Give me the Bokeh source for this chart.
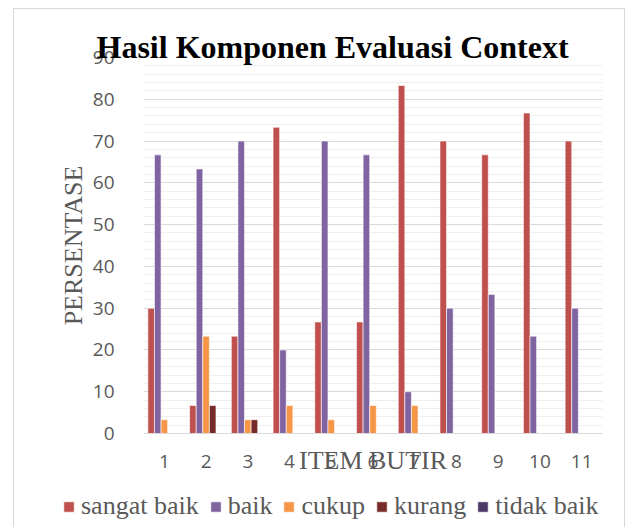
from bokeh.plotting import figure
from bokeh.layouts import column
from bokeh.models import (FactorRange, Range1d, Legend, LegendItem,
                          SingleIntervalTicker, ColumnDataSource)
from bokeh.transform import dodge
from bokeh.embed import file_html
from bokeh.resources import INLINE

# ---- data ----
items = ["1", "2", "3", "4", "5", "6", "7", "8", "9", "10", "11"]
sangat_baik = [30.0, 6.7, 23.3, 73.3, 26.7, 26.7, 83.3, 70.0, 66.7, 76.7, 70.0]
baik = [66.7, 63.3, 70.0, 20.0, 70.0, 66.7, 10.0, 30.0, 33.3, 23.3, 30.0]
cukup = [3.3, 23.3, 3.3, 6.7, 3.3, 6.7, 6.7, 0.0, 0.0, 0.0, 0.0]
kurang = [0.0, 6.7, 3.3, 0.0, 0.0, 0.0, 0.0, 0.0, 0.0, 0.0, 0.0]
tidak_baik = [0.0, 0.0, 0.0, 0.0, 0.0, 0.0, 0.0, 0.0, 0.0, 0.0, 0.0]
series_names = ["sangat baik", "baik", "cukup", "kurang", "tidak baik"]
series_keys = ["sangat_baik", "baik", "cukup", "kurang", "tidak_baik"]
colors = ["#C0504D", "#8064A2", "#F79646", "#772C2A", "#4B3A66"]
title_text = "Hasil Komponen Evaluasi Context"
x_title = "ITEM BUTIR"
y_title = "PERSENTASE"

source = ColumnDataSource(dict(item=items, sangat_baik=sangat_baik, baik=baik,
                               cukup=cukup, kurang=kurang, tidak_baik=tidak_baik))
BORDER = "1px solid #d9d9d9"

# ---------------- main chart ----------------
p = figure(x_range=FactorRange(factors=items), y_range=Range1d(0, 90),
           width=612, height=475, output_backend="svg", toolbar_location=None,
           min_border_left=129, min_border_right=24, min_border_top=48,
           min_border_bottom=51)
p.margin = (8, 0, 0, 13)
p.styles = {"border-top": BORDER, "border-left": BORDER, "border-right": BORDER}
p.outline_line_color = None
p.background_fill_color = "white"
p.border_fill_color = "white"

bw = 0.158
offsets = [-2 * bw, -bw, 0.0, bw, 2 * bw]
for key, col, off in zip(series_keys, colors, offsets):
    p.vbar(x=dodge("item", off, range=p.x_range), top=key, width=bw,
           source=source, fill_color=col, line_color="white", line_width=0.6)

# y axis
p.yaxis.ticker = SingleIntervalTicker(interval=10, num_minor_ticks=5)
p.yaxis.axis_line_color = None
p.yaxis.major_tick_line_color = None
p.yaxis.minor_tick_line_color = None
p.yaxis.major_label_standoff = 23
p.yaxis.major_label_text_font = "Open Sans"
p.yaxis.major_label_text_font_size = "19px"
p.yaxis.major_label_text_color = "#595959"
p.yaxis.axis_label = y_title
p.yaxis.axis_label_text_font = "Liberation Serif"
p.yaxis.axis_label_text_font_style = "normal"
p.yaxis.axis_label_text_font_size = "26px"
p.yaxis.axis_label_text_color = "#595959"
p.yaxis.axis_label_standoff = 2

# x axis (its title sits on the tick-label row, as in the original)
p.xaxis.axis_line_color = "#d9d9d9"
p.xaxis.axis_line_width = 1
p.xaxis.major_tick_line_color = None
p.xaxis.minor_tick_line_color = None
p.xaxis.major_label_standoff = 15
p.xaxis.major_label_text_font = "Open Sans"
p.xaxis.major_label_text_font_size = "19px"
p.xaxis.major_label_text_color = "#595959"
p.xaxis.axis_label = x_title
p.xaxis.axis_label_standoff = -25
p.xaxis.axis_label_text_font = "Liberation Serif"
p.xaxis.axis_label_text_font_style = "normal"
p.xaxis.axis_label_text_font_size = "26px"
p.xaxis.axis_label_text_color = "#595959"

# grid
p.xgrid.grid_line_color = None
p.ygrid.grid_line_color = "#d9d9d9"
p.ygrid.grid_line_width = 1
p.ygrid.minor_grid_line_color = "#efefef"
p.ygrid.minor_grid_line_width = 1

# chart title
p.title.text = title_text
p.title.text_font = "Liberation Serif"
p.title.text_font_size = "32px"
p.title.text_font_style = "bold"
p.title.text_color = "black"
p.title.align = "left"
p.title.offset = -47
p.title.standoff = -14

# ---------------- legend strip ----------------
# proxies of the same series (their bars fall outside this strip's y-range)
lg = figure(x_range=FactorRange(factors=items), y_range=Range1d(1000, 1001),
            width=612, height=44, output_backend="svg", toolbar_location=None,
            title=None, x_axis_location=None, y_axis_location=None,
            min_border_left=0, min_border_right=0, min_border_top=0, min_border_bottom=0)
lg.margin = (0, 0, 0, 13)
lg.styles = {"border-left": BORDER, "border-right": BORDER}
lg.outline_line_color = None
lg.xgrid.grid_line_color = None
lg.ygrid.grid_line_color = None
proxies = []
for key, col, off in zip(series_keys, colors, offsets):
    proxies.append(lg.vbar(x=dodge("item", off, range=lg.x_range), top=key, width=bw,
                           source=source, fill_color=col, line_color="white",
                           line_width=0.6))

# keep the strip's frame full-width (do not align it with the chart's frame)
unaligned = True
try:
    lg.frame_align = False
    p.frame_align = False
except Exception:
    unaligned = False

legend = Legend(items=[LegendItem(label=n, renderers=[r]) for n, r in zip(series_names, proxies)],
                orientation="horizontal", location=(48, 6) if unaligned else "center",
                glyph_width=13, glyph_height=13, label_standoff=6, spacing=10,
                padding=0, margin=0, border_line_color=None, background_fill_alpha=0,
                label_text_font="Liberation Serif",
                label_text_font_size="26px" if unaligned else "20px",
                label_text_color="#595959")
lg.add_layout(legend)

layout = column(p, lg, spacing=0)
open("out.html", "w").write(file_html(layout, INLINE))
